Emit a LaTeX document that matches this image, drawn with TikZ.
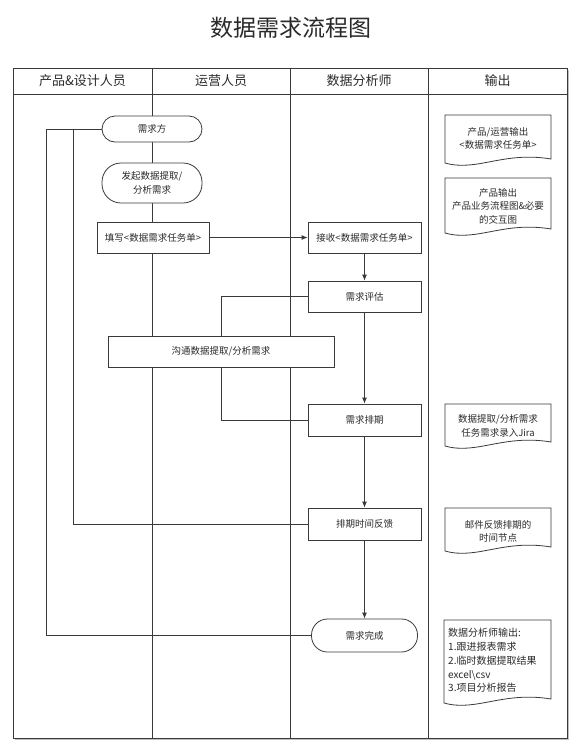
\documentclass[tikz,border=0pt]{standalone}
\usepackage{fontspec}
\setmainfont{Noto Sans CJK SC}
\usetikzlibrary{arrows.meta,calc}
\definecolor{ln}{HTML}{3A3A3A}
\definecolor{tx}{HTML}{2A2A2A}
\newcommand\docpath[4]{%
  \draw[docline] (#1,#2) -- (#3,#2) -- (#3,#4-7)
    .. controls ({#1+0.55*(#3-#1)},#4-15) and ({#1+0.3*(#3-#1)},#4+6) .. (#1,#4-3) -- cycle;}
\begin{document}
\begin{tikzpicture}[x=1pt,y=-1pt,
  lane/.style={draw=ln,line width=0.8pt},
  docline/.style={draw=ln,line width=0.8pt,fill=white},
  hdr/.style={text=tx,font=\fontsize{13}{15}\selectfont},
  proc/.style={draw=ln,line width=0.8pt,fill=white,text=tx,minimum width=113pt,minimum height=31pt,inner sep=1pt,font=\fontsize{9.5}{13}\selectfont},
  term/.style={draw=ln,line width=0.8pt,fill=white,text=tx,inner sep=1pt,align=center,font=\fontsize{9.5}{14}\selectfont},
  doctext/.style={text=tx,align=center,font=\fontsize{9.5}{13.5}\selectfont,inner sep=0pt},
  conn/.style={draw=ln,line width=0.8pt},
  arr/.style={conn,-{Latex[length=6pt,width=5pt]}}
]
\useasboundingbox (0,0) rectangle (581,748);
% title
\node[text=tx,font=\fontsize{23}{26}\selectfont] (title) at (291,28) {数据需求流程图};
% frame and lanes
\draw[draw=black!25,line width=1.2pt] (14.5,739.5) -- (568.5,739.5) -- (568.5,69.5);
\draw[lane,line width=1pt] (13,68) rectangle (567,738);
\draw[lane] (13,94) -- (567,94);
\draw[lane] (152,68) -- (152,738);
\draw[lane] (290,68) -- (290,738);
\draw[lane] (428,68) -- (428,738);
\node[hdr] (h1) at (82.5,81) {产品\&设计人员};
\node[hdr] (h2) at (221,81) {运营人员};
\node[hdr] (h3) at (359,81) {数据分析师};
\node[hdr] (h4) at (497.5,81) {输出};
% nodes
\node[term,minimum width=100pt,minimum height=26pt,rounded corners=13pt] (req) at (152,129) {需求方};
\node[term,minimum width=100pt,minimum height=40pt,rounded corners=19pt] (init) at (152,183) {发起数据提取/\\分析需求};
\node[proc,minimum width=112pt] (fill) at (153,237.5) {填写<数据需求任务单>};
\node[proc] (recv) at (364.5,237.5) {接收<数据需求任务单>};
\node[proc] (eval) at (364.5,296.5) {需求评估};
\node[proc,minimum width=226pt] (comm) at (221,351.5) {沟通数据提取/分析需求};
\node[proc,minimum height=32pt] (sched) at (364.5,420) {需求排期};
\node[proc,minimum height=32pt] (fb) at (364.5,524) {排期时间反馈};
\node[term,minimum width=106pt,minimum height=33pt,rounded corners=16pt] (done) at (364.5,635.5) {需求完成};
% connectors
\coordinate (j1) at (73,129);
\coordinate (j2) at (46,129);
\draw[conn] (req.west) -- (j2) |- (done.west);
\draw[conn] (j1) |- (fb.west);
\draw[arr] (fill.east) -- (recv.west);
\draw[arr] (recv.south) -- (eval.north);
\draw[arr] (eval.south) -- (sched.north);
\draw[arr] (sched.south) -- (fb.north);
\draw[arr] (fb.south) -- (done.north);
\draw[conn] (eval.west) -| (comm.north);
\draw[conn] (comm.south) |- (sched.west);
% output documents
\docpath{445}{115}{551}{166}
\node[doctext] (d1) at (498,138.5) {产品/运营输出\\<数据需求任务单>};
\docpath{445}{178}{551}{236}
\node[doctext] (d2) at (498,206) {产品输出\\产品业务流程图\&必要\\的交互图};
\docpath{445}{404}{551}{449}
\node[doctext] (d3) at (498,426) {数据提取/分析需求\\任务需求录入Jira};
\docpath{445}{508}{551}{554}
\node[doctext] (d4) at (498,531.5) {邮件反馈排期的\\时间节点};
\docpath{444}{620}{551}{706}
\node[doctext,align=left,anchor=west,font=\fontsize{10}{13.8}\selectfont] (d5) at (448,660.5) {数据分析师输出:\\1.跟进报表需求\\2.临时数据提取结果\\excel\textbackslash csv\\3.项目分析报告};
\end{tikzpicture}
\end{document}
